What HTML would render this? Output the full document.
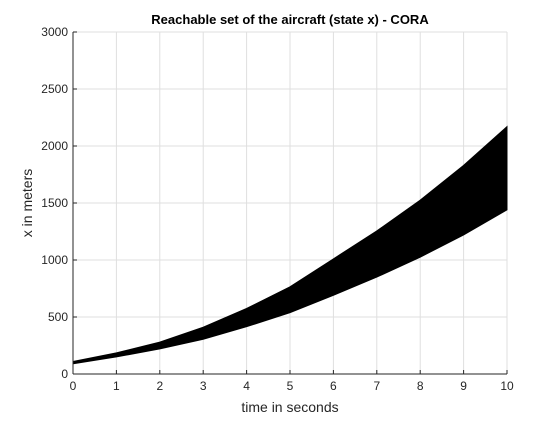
<!DOCTYPE html>
<html><head><meta charset="utf-8"><style>
body{margin:0;background:#fff;width:560px;height:420px;overflow:hidden}
svg text{font-family:"Liberation Sans",Arial,sans-serif}
</style></head><body>
<svg id="chart" width="560" height="420" xmlns="http://www.w3.org/2000/svg">
<rect width="560" height="420" fill="#fff"/>
<rect x="73" y="32" width="434" height="342" fill="#fff"/>
<g id="grid"></g>
<polygon id="band" fill="#000" stroke="#000" stroke-width="1"/>
<line x1="73" y1="32" x2="73" y2="374" stroke="#262626"/>
<line x1="73" y1="374" x2="507" y2="374" stroke="#262626"/>
<g id="ticks" font-size="12" fill="#262626"></g>
<text x="290" y="24" text-anchor="middle" font-size="13" font-weight="bold" fill="#000">Reachable set of the aircraft (state x) - CORA</text>
<text x="290" y="412" text-anchor="middle" font-size="14" fill="#262626">time in seconds</text>
<text transform="translate(32,203) rotate(-90)" text-anchor="middle" font-size="14" fill="#262626">x in meters</text>
</svg>
<script>
const times=[0,1,2,3,4,5,6,7,8,9,10];
const upper=[110,185,280,410,575,765,1010,1255,1525,1830,2170];
const lower=[90,150,220,305,415,538,690,850,1025,1220,1440];
const xTicks=[0,1,2,3,4,5,6,7,8,9,10];
const yTicks=[0,500,1000,1500,2000,2500,3000];
const X0=73,X1=507,Y0=374,Y1=32;
const sx=v=>X0+(v-0)/(10-0)*(X1-X0);
const sy=v=>Y0-(v-0)/(3000-0)*(Y0-Y1);
const NS="http://www.w3.org/2000/svg";
const grid=document.getElementById('grid'),ticks=document.getElementById('ticks');
function mk(t,a,p){const e=document.createElementNS(NS,t);for(const k in a)e.setAttribute(k,a[k]);p.appendChild(e);return e;}
xTicks.forEach(v=>{const x=sx(v);
 const g=mk('line',{x1:x,x2:x,y1:Y0,y2:Y1,stroke:'#dfdfdf','stroke-width':1},grid);
 
 
 const tk=mk('line',{x1:x,x2:x,y1:Y0,y2:Y0-4,stroke:'#262626'},ticks);
 
 
 const t=mk('text',{x:x,y:Y0+16,'text-anchor':'middle'},ticks);t.textContent=v;
 
 
});
yTicks.forEach(v=>{const y=sy(v);
 const g=mk('line',{x1:X0,x2:X1,y1:y,y2:y,stroke:'#dfdfdf','stroke-width':1},grid);
 
 
 const tk=mk('line',{x1:X0,x2:X0+4,y1:y,y2:y,stroke:'#262626'},ticks);
 
 
 const t=mk('text',{x:X0-5,y:y+4,'text-anchor':'end'},ticks);t.textContent=v;
 
 
});
const pts=times.map((t,i)=>sx(t)+','+sy(upper[i])).concat(times.slice().reverse().map((t,j)=>{const i=times.length-1-j;return sx(t)+','+sy(lower[i]);}));
document.getElementById('band').setAttribute('points',pts.join(' '));
</script>
</body></html>
